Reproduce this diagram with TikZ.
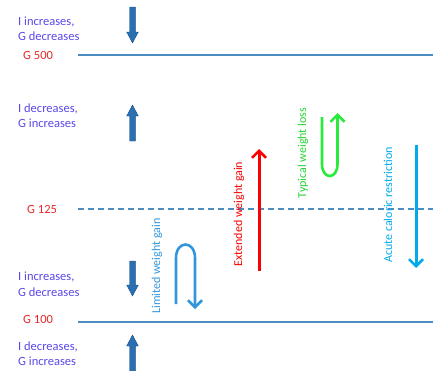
\documentclass[tikz,border=0pt]{standalone}
\usepackage{fontspec}
\setmainfont{Carlito}
\usetikzlibrary{arrows.meta}
\definecolor{txtblue}{RGB}{88,72,232}
\definecolor{gred}{RGB}{232,40,40}
\definecolor{lineblue}{RGB}{75,140,195}
\definecolor{blockblue}{RGB}{40,112,178}
\definecolor{blockedge}{RGB}{30,80,130}
\definecolor{arrred}{RGB}{250,0,0}
\definecolor{arrgreen}{RGB}{40,235,60}
\definecolor{arrcyan}{RGB}{0,170,235}
\definecolor{limblue}{RGB}{50,150,220}
\newcommand\blockarr[3]{% x, tail y, tip y
  \pgfmathsetmacro\hd{(#3>#2)?-11:11}
  \filldraw[fill=blockblue,draw=blockedge,line width=0.4pt]
    (#1-2.8,#2) -- (#1-2.8,#3+\hd) -- (#1-5.8,#3+\hd) -- (#1,#3) --
    (#1+5.8,#3+\hd) -- (#1+2.8,#3+\hd) -- (#1+2.8,#2) -- cycle;}
\tikzset{
  note/.style={font=\fontsize{12.5}{15.5}\selectfont, text=txtblue, align=left, anchor=west, inner sep=0pt},
  glabel/.style={font=\fontsize{12.5}{14}\selectfont, text=gred, anchor=west, inner sep=0pt},
  level/.style={lineblue, line width=1.6pt},
  vlabel/.style={font=\fontsize{12}{14}\selectfont, rotate=90, inner sep=0pt},
  bigarr/.style={line width=3pt, -{Straight Barb[length=7pt,width=14pt,line width=2.5pt]}},
}
\begin{document}
\begin{tikzpicture}[x=1pt,y=-1pt]
\useasboundingbox (0,0) rectangle (433,370);
% level lines
\coordinate (l500a) at (78,55); \coordinate (l500b) at (433,55);
\coordinate (l125a) at (78,209); \coordinate (l125b) at (433,209);
\coordinate (l100a) at (78,322); \coordinate (l100b) at (433,322);
\draw[level] (l500a) -- (l500b);
\draw[level, dash pattern=on 6pt off 4pt] (l125a) -- (l125b);
\draw[level] (l100a) -- (l100b);
% labels
\node[note] (n1) at (18,28.5) {I increases,\\G decreases};
\node[glabel] (g500) at (23,55.5) {G 500};
\node[note] (n2) at (18,115.5) {I decreases,\\G increases};
\node[glabel] (g125) at (27,209) {G 125};
\node[note] (n3) at (18,284) {I increases,\\G decreases};
\node[glabel] (g100) at (23,319.5) {G 100};
\node[note] (n4) at (18,353.5) {I decreases,\\G increases};
% block arrows
\blockarr{132.5}{7}{43}
\blockarr{132.5}{141}{105}
\blockarr{132.5}{261}{296}
\blockarr{132.5}{375}{335}
% vertical labels
\node[vlabel, text=limblue] (lim) at (157,266) {Limited weight gain};
\node[vlabel, text=arrred] (ext) at (239,214) {Extended weight gain};
\node[vlabel, text=arrgreen!90!black] (typ) at (303,153) {Typical weight loss};
\node[vlabel, text=arrcyan] (acu) at (388,205) {Acute caloric restriction};
% curved / straight arrows
\coordinate (redA) at (259,271); \coordinate (redB) at (259,149);
\draw[bigarr, arrred] (redA) -- (redB);
\coordinate (cyA) at (416,145); \coordinate (cyB) at (416,268);
\draw[bigarr, arrcyan] (cyA) -- (cyB);
\coordinate (grA) at (322,117); \coordinate (grB) at (337.5,113);
\draw[bigarr, arrgreen, line width=2.6pt] (grA) -- (322,164) .. controls (322,180) and (337.5,180) .. (337.5,164) -- (grB);
\coordinate (lmA) at (176,304); \coordinate (lmB) at (195,309);
\draw[bigarr, limblue, line width=2.6pt] (lmA) -- (176,258) .. controls (176,240) and (195,240) .. (195,258) -- (lmB);
\end{tikzpicture}
\end{document}
